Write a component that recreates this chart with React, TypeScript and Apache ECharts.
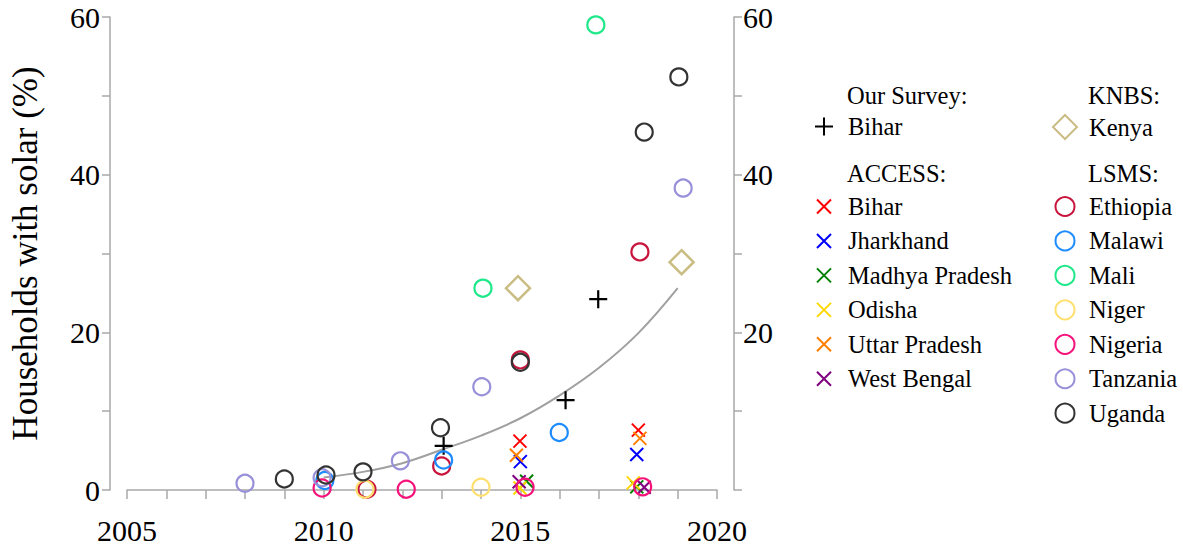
import React, { useEffect, useRef } from "react";
import * as echarts from "echarts";

const FONT = "Liberation Serif";

// Year ticks / labels
const xTickLabels = [2005, 2010, 2015, 2020];
const yTickLabels = [0, 20, 40, 60];

// Our Survey
const surveyBihar = [[2013.05, 5.6], [2016.15, 11.4], [2016.98, 24.2]];

// ACCESS
const accessBihar = [[2014.99, 6.2], [2018.0, 7.6]];
const accessJharkhand = [[2015.0, 3.6], [2017.96, 4.5]];
const accessMadhyaPradesh = [[2015.16, 1.1], [2017.96, 0.4]];
const accessOdisha = [[2014.99, 0.25], [2017.87, 0.9]];
const accessUttarPradesh = [[2014.9, 4.4], [2018.04, 6.55]];
const accessWestBengal = [[2014.97, 1.05], [2018.15, 0.35]];

// KNBS
const knbsKenya = [[2014.94, 25.6], [2019.1, 28.9]];

// LSMS
const lsmsEthiopia = [[2011.1, 0.1], [2013.0, 3.05], [2015.0, 16.5], [2018.04, 30.2]];
const lsmsMalawi = [[2010.03, 1.2], [2013.05, 3.8], [2015.99, 7.3]];
const lsmsMali = [[2014.05, 25.6], [2016.92, 59.0]];
const lsmsNiger = [[2011.05, 0.1], [2014.0, 0.35]];
const lsmsNigeria = [[2009.96, 0.25], [2012.1, 0.1], [2015.12, 0.35], [2018.11, 0.4]];
const lsmsTanzania = [[2008.0, 0.85], [2009.96, 1.55], [2011.95, 3.7], [2014.02, 13.1], [2019.14, 38.3]];
const lsmsUganda = [[2009.0, 1.4], [2010.06, 1.9], [2011.0, 2.3], [2012.97, 7.9], [2015.0, 16.2], [2018.15, 45.4], [2019.03, 52.4]];

// Trend curve
const trendYears = [2010, 2011, 2012, 2013, 2014, 2015, 2016, 2017, 2018, 2019];
const trendValues = [1.6, 2.3, 3.4, 5.1, 6.9, 9.1, 12.0, 15.5, 19.9, 25.6];

const PLUS = "path://M0,5L10,5M5,0L5,10";
const CROSS = "path://M0,0L10,10M10,0L0,10";

const accessSeries = [
  { name: "ACCESS: Bihar", data: accessBihar, color: "#ff0000" },
  { name: "ACCESS: Jharkhand", data: accessJharkhand, color: "#0000ff" },
  { name: "ACCESS: Madhya Pradesh", data: accessMadhyaPradesh, color: "#008000" },
  { name: "ACCESS: Odisha", data: accessOdisha, color: "#ffd700" },
  { name: "ACCESS: Uttar Pradesh", data: accessUttarPradesh, color: "#ff8000" },
  { name: "ACCESS: West Bengal", data: accessWestBengal, color: "#800080" },
];

const lsmsSeries = [
  { name: "LSMS: Ethiopia", data: lsmsEthiopia, color: "#c8143c" },
  { name: "LSMS: Malawi", data: lsmsMalawi, color: "#1e8cff" },
  { name: "LSMS: Mali", data: lsmsMali, color: "#1ee88a" },
  { name: "LSMS: Niger", data: lsmsNiger, color: "#ffdf6e" },
  { name: "LSMS: Nigeria", data: lsmsNigeria, color: "#f5127a" },
  { name: "LSMS: Tanzania", data: lsmsTanzania, color: "#9890d8" },
  { name: "LSMS: Uganda", data: lsmsUganda, color: "#333333" },
];

const stripPrefix = (n: string) => n.slice(n.indexOf(": ") + 2);

export default function App() {
  const ref = useRef<HTMLDivElement>(null);

  useEffect(() => {
    if (!ref.current) return;
    const chart = echarts.init(ref.current, undefined, { renderer: "svg" });
    const axisGray = "#a9a9a9";
    const labelStyle = { color: "#000", fontFamily: FONT, fontSize: 30 };
    const LFS = 24.5;

    const series: any[] = [
      {
        name: "trend",
        type: "line",
        data: trendYears.map((y, i) => [y, trendValues[i]]),
        smooth: 0.4,
        showSymbol: false,
        lineStyle: { color: "#a0a0a0", width: 2 },
        z: 1,
      },
      {
        name: "Our Survey: Bihar",
        type: "scatter",
        data: surveyBihar,
        symbol: PLUS,
        symbolSize: 18,
        itemStyle: { color: "transparent", borderColor: "#000", borderWidth: 2.2, opacity: 1 },
        z: 3,
      },
      ...accessSeries.map((s) => ({
        name: s.name,
        type: "scatter",
        data: s.data,
        symbol: CROSS,
        symbolSize: 13,
        itemStyle: { color: "transparent", borderColor: s.color, borderWidth: 2, opacity: 1 },
        z: 3,
      })),
      {
        name: "KNBS: Kenya",
        type: "scatter",
        data: knbsKenya,
        symbol: "diamond",
        symbolSize: 24,
        itemStyle: { color: "transparent", borderColor: "#c9bd84", borderWidth: 2.5, opacity: 1 },
        z: 3,
      },
      ...lsmsSeries.map((s) => ({
        name: s.name,
        type: "scatter",
        data: s.data,
        symbol: "circle",
        symbolSize: 17,
        itemStyle: { color: "transparent", borderColor: s.color, borderWidth: 2.2, opacity: 1 },
        z: 3,
      })),
    ];

    // icon centred at cx, text starting at tx
    const mkLegend = (cx: number, tx: number, top: number, size: number, data: string[]) => ({
      orient: "vertical",
      padding: 0,
      left: cx - size / 2,
      top,
      itemWidth: size,
      itemHeight: size,
      itemGap: 9.45,
      selectedMode: false,
      textStyle: {
        color: "#000",
        fontFamily: FONT,
        fontSize: LFS,
        lineHeight: 24,
        padding: [0, 0, 0, tx - (cx + size / 2 + 5)],
      },
      formatter: stripPrefix,
      data,
    });

    const header = (x: number, y: number, text: string) => ({
      type: "text",
      left: x,
      top: y - 12,
      style: { text, fill: "#000", fontFamily: FONT, fontSize: LFS },
    });

    chart.setOption({
      animation: false,
      grid: { left: 127, right: 466, top: 17, bottom: 60, containLabel: false },
      xAxis: {
        type: "value",
        min: 2005,
        max: 2020,
        interval: 1,
        offset: 15,
        axisLine: { show: true, lineStyle: { color: axisGray, width: 1.5 } },
        axisTick: { show: true, length: 9, lineStyle: { color: axisGray, width: 1.5 } },
        axisLabel: {
          ...labelStyle,
          margin: 10,
          formatter: (v: number) => (xTickLabels.includes(v) ? String(v) : ""),
        },
        splitLine: { show: false },
      },
      yAxis: [
        {
          type: "value",
          min: 0,
          max: 60,
          interval: 10,
          position: "left",
          offset: 17,
          name: "Households with solar (%)",
          nameLocation: "middle",
          nameGap: 67,
          nameTextStyle: { color: "#000", fontFamily: FONT, fontSize: 35 },
          axisLine: { show: true, lineStyle: { color: axisGray, width: 1.5 } },
          axisTick: { show: true, length: 8, lineStyle: { color: axisGray, width: 1.5 } },
          axisLabel: {
            ...labelStyle,
            margin: 10,
            formatter: (v: number) => (yTickLabels.includes(v) ? String(v) : ""),
          },
          splitLine: { show: false },
        },
        {
          type: "value",
          min: 0,
          max: 60,
          interval: 10,
          position: "right",
          offset: 17,
          axisLine: { show: true, lineStyle: { color: axisGray, width: 1.5 } },
          axisTick: { show: true, length: 8, lineStyle: { color: axisGray, width: 1.5 } },
          axisLabel: {
            ...labelStyle,
            margin: 9,
            formatter: (v: number) => (yTickLabels.includes(v) && v !== 0 ? String(v) : ""),
          },
          splitLine: { show: false },
        },
      ],
      legend: [
        mkLegend(823, 847, 114, 18, ["Our Survey: Bihar"]),
        mkLegend(823, 847, 194, 14, accessSeries.map((s) => s.name)),
        mkLegend(1064, 1088, 114, 24, ["KNBS: Kenya"]),
        mkLegend(1064, 1088, 194, 19, lsmsSeries.map((s) => s.name)),
      ],
      graphic: [
        header(847, 95, "Our Survey:"),
        header(847, 173, "ACCESS:"),
        header(1088, 95, "KNBS:"),
        header(1088, 173, "LSMS:"),
      ],
      series,
    });
    return () => chart.dispose();
  }, []);

  return (
    <div
      ref={ref}
      style={{ position: "fixed", left: 0, top: 0, width: 1183, height: 550, background: "#fff" }}
    />
  );
}
